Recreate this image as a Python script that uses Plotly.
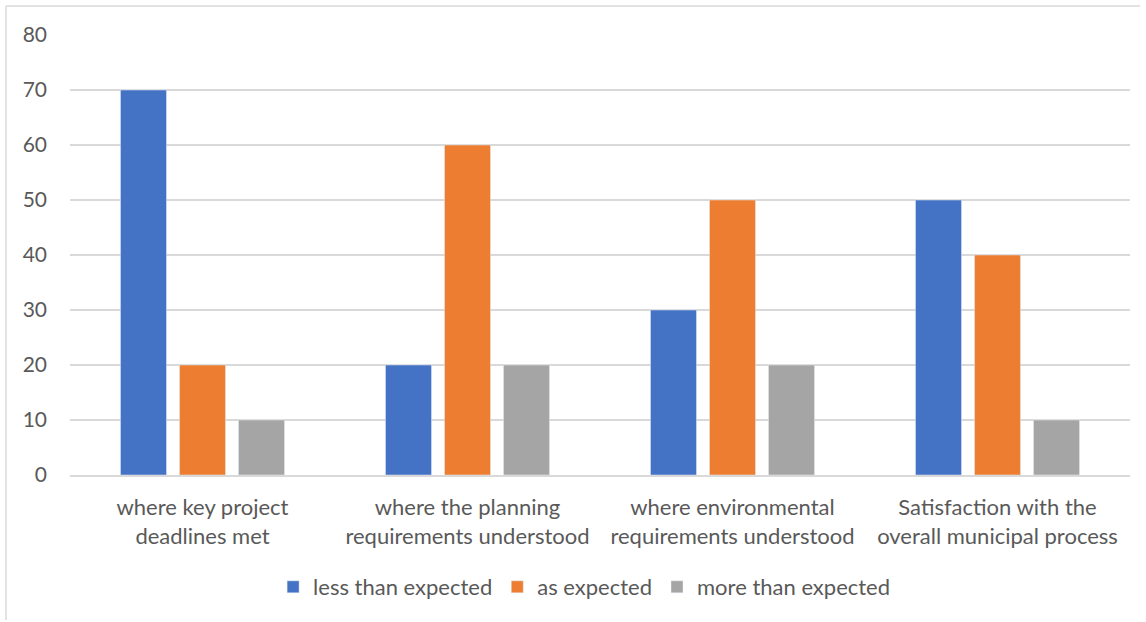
import plotly.graph_objects as go

categories = [
    "where key project<br>deadlines met",
    "where the planning<br>requirements understood",
    "where environmental<br>requirements understood",
    "Satisfaction with the<br>overall municipal process",
]
less_than_expected = [70, 20, 30, 50]
as_expected = [20, 60, 50, 40]
more_than_expected = [10, 20, 20, 10]
y_ticks = [0, 10, 20, 30, 40, 50, 60, 70, 80]

FONT = "Lato"
TXT = "#595959"

fig = go.Figure()
fig.add_trace(go.Bar(name="less than expected", x=categories, y=less_than_expected, marker_color="#4472C4"))
fig.add_trace(go.Bar(name="as expected", x=categories, y=as_expected, marker_color="#ED7D31"))
fig.add_trace(go.Bar(name="more than expected", x=categories, y=more_than_expected, marker_color="#A5A5A5"))

W, H = 1146, 622
L, R, T, B = 70, 16, 35, 147
pw, ph = W - L - R, H - T - B

fig.update_layout(
    width=W, height=H,
    margin=dict(l=L, r=R, t=T, b=B),
    paper_bgcolor="white", plot_bgcolor="white",
    barmode="group", bargap=0.332, bargroupgap=0.22,
    font=dict(family=FONT, size=22, color=TXT),
    showlegend=True,
    legend=dict(orientation="h", x=0.485, xanchor="center", y=(0 - (587 - 475)) / ph, yanchor="middle",
                font=dict(family=FONT, size=22, color=TXT), itemwidth=30, tracegroupgap=0),
    xaxis=dict(showgrid=False, showline=True, linecolor="#D9D9D9", linewidth=2, ticks="",
               ticklabelstandoff=12,
               tickfont=dict(family=FONT, size=22, color=TXT)),
    yaxis=dict(range=[0, 80], tickvals=y_ticks, showgrid=True, gridcolor="#D9D9D9", gridwidth=1.5,
               zeroline=False, showline=False, ticks="", ticklabelstandoff=22,
               tickfont=dict(family=FONT, size=21, color=TXT)),
)

# chart frame (top and left edges)
x0 = (6 - L) / pw
y_top = (H - 6 - B) / ph
y_bot = (H - 620 - B) / ph
x_right = (1140 - L) / pw
fig.add_shape(type="line", xref="paper", yref="paper", x0=x0, x1=x_right, y0=y_top, y1=y_top,
              line=dict(color="#D9D9D9", width=1.5))
fig.add_shape(type="line", xref="paper", yref="paper", x0=x0, x1=x0, y0=y_bot, y1=y_top,
              line=dict(color="#D9D9D9", width=1.5))

fig.write_html("out.html")
